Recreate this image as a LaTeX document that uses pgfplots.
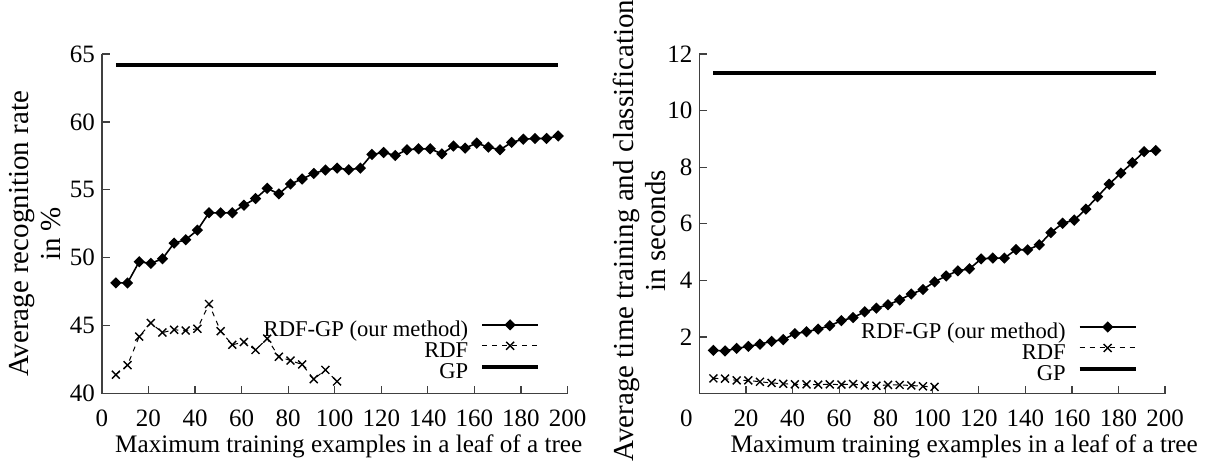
\documentclass[border=0pt]{standalone}
\usepackage{fontspec}
\setmainfont{Liberation Serif}
\usepackage{pgfplots}
\usepackage{pgfplotstable}
\pgfplotsset{compat=1.18}

% recognition rate (%)
\pgfplotstableread{
x y
6 48.15
11 48.15
16 49.71
21 49.59
26 49.93
31 51.08
36 51.33
41 52.03
46 53.31
51 53.31
56 53.31
61 53.87
66 54.36
71 55.11
76 54.70
81 55.43
86 55.80
91 56.21
96 56.46
101 56.60
106 56.48
111 56.60
116 57.61
121 57.75
126 57.53
131 57.95
136 58.02
141 58.02
146 57.65
151 58.22
156 58.07
161 58.44
166 58.14
171 57.95
176 58.49
181 58.73
186 58.78
191 58.78
196 58.97
}\rateRDFGP
\pgfplotstableread{
x y
6 41.40
11 42.10
16 44.20
21 45.20
26 44.50
31 44.70
36 44.65
41 44.78
46 46.60
51 44.60
56 43.60
61 43.80
66 43.22
71 44.05
76 42.72
81 42.44
86 42.15
91 41.07
96 41.75
101 40.90
}\rateRDF
\pgfplotstableread{
x y
6 64.2
196 64.2
}\rateGP

% time in seconds
\pgfplotstableread{
x y
6 1.53
11 1.51
16 1.60
21 1.67
26 1.75
31 1.85
36 1.91
41 2.12
46 2.19
51 2.28
56 2.40
61 2.58
66 2.69
71 2.89
76 3.02
81 3.14
86 3.31
91 3.52
96 3.68
101 3.95
106 4.16
111 4.34
116 4.41
121 4.76
126 4.79
131 4.79
136 5.09
141 5.08
146 5.26
151 5.69
156 6.02
161 6.13
166 6.52
171 6.96
176 7.40
181 7.79
186 8.16
191 8.55
196 8.59
}\timeRDFGP
\pgfplotstableread{
x y
6 0.54
11 0.53
16 0.47
21 0.47
26 0.42
31 0.38
36 0.35
41 0.33
46 0.33
51 0.32
56 0.33
61 0.32
66 0.34
71 0.29
76 0.28
81 0.31
86 0.31
91 0.29
96 0.26
101 0.24
}\timeRDF
\pgfplotstableread{
x y
6 11.33
196 11.33
}\timeGP

\pgfplotsset{
  panel/.style={
    scale only axis, width=233pt, height=170pt,
    axis lines=left,
    axis line style={-, black!75, line width=0.6pt},
    tick align=inside, major tick length=4pt,
    tick style={black!75, line width=0.6pt},
    xmin=0, xmax=200,
    clip=false,
    /pgf/number format/assume math mode=true,
    tick label style={font=\fontsize{12.5}{14}\selectfont},
    x tick label style={anchor=base, yshift=-16.5pt},
    every axis x label/.style={at={([yshift=-26.5pt]axis description cs:0.5,0)},
      anchor=center, font=\fontsize{12.6}{14}\selectfont},
    every axis y label/.style={rotate=90, anchor=center, align=center,
      font=\fontsize{14.5}{16}\selectfont},
    legend plot pos=right,
    legend cell align=right,
    legend style={draw=none, fill=none, inner sep=0pt, column sep=6pt,
      font=\fontsize{11.3}{12}\selectfont,
      nodes={inner sep=0pt, text height=8pt, text depth=2.5pt}},
    legend image code/.code={
      \draw[mark repeat=2, mark phase=2, ##1] plot coordinates {(0pt,3pt) (14pt,3pt) (28pt,3pt)};
    },
  },
  rdfgp/.style={black, line width=0.8pt, mark=square*, mark size=1.6pt,
    mark options={rotate=45, solid, fill=black}},
  rdf/.style={black, line width=0.5pt, dash pattern=on 2.5pt off 2.5pt,
    mark=x, mark size=2.8pt, mark options={solid, line width=0.7pt}},
  gp/.style={black, line width=2pt},
}

\begin{document}
\begin{tikzpicture}
\path[use as bounding box] (-51pt,-34pt) rectangle (555.5pt,197pt);

\begin{axis}[panel,
    at={(0pt,0pt)}, anchor=south west,
    ymin=40, ymax=65,
    ytick={40,45,...,65},
    xtick={0,20,...,200},
    xlabel={Maximum training examples in a leaf of a tree},
    xlabel style={xshift=7pt},
    ylabel={Average recognition rate\\in \%},
    ylabel style={at={([xshift=-33.5pt]axis description cs:0,0.47)}},
    legend style={at={(axis cs:188.4,45.43)}, anchor=north east},
]
\addplot[rdfgp] table {\rateRDFGP};
\addplot[rdf] table {\rateRDF};
\addplot[gp] table {\rateGP};
\legend{RDF-GP (our method), RDF, GP}
\end{axis}

\begin{axis}[panel,
    at={(299pt,0pt)}, anchor=south west,
    ymin=0, ymax=12,
    ytick={2,4,...,12},
    xtick={20,40,...,200},
    extra x ticks={0},
    extra x tick style={major tick length=0pt, tick label style={xshift=-6.5pt}},
    xlabel={Maximum training examples in a leaf of a tree},
    xlabel style={xshift=16pt},
    ylabel={Average time training and classification\\in seconds},
    ylabel style={at={([xshift=-30pt]axis description cs:0,0.48)}},
    legend style={at={(axis cs:188.4,2.53)}, anchor=north east},
]
\addplot[rdfgp] table {\timeRDFGP};
\addplot[rdf] table {\timeRDF};
\addplot[gp] table {\timeGP};
\legend{RDF-GP (our method), RDF, GP}
\end{axis}
\end{tikzpicture}
\end{document}
